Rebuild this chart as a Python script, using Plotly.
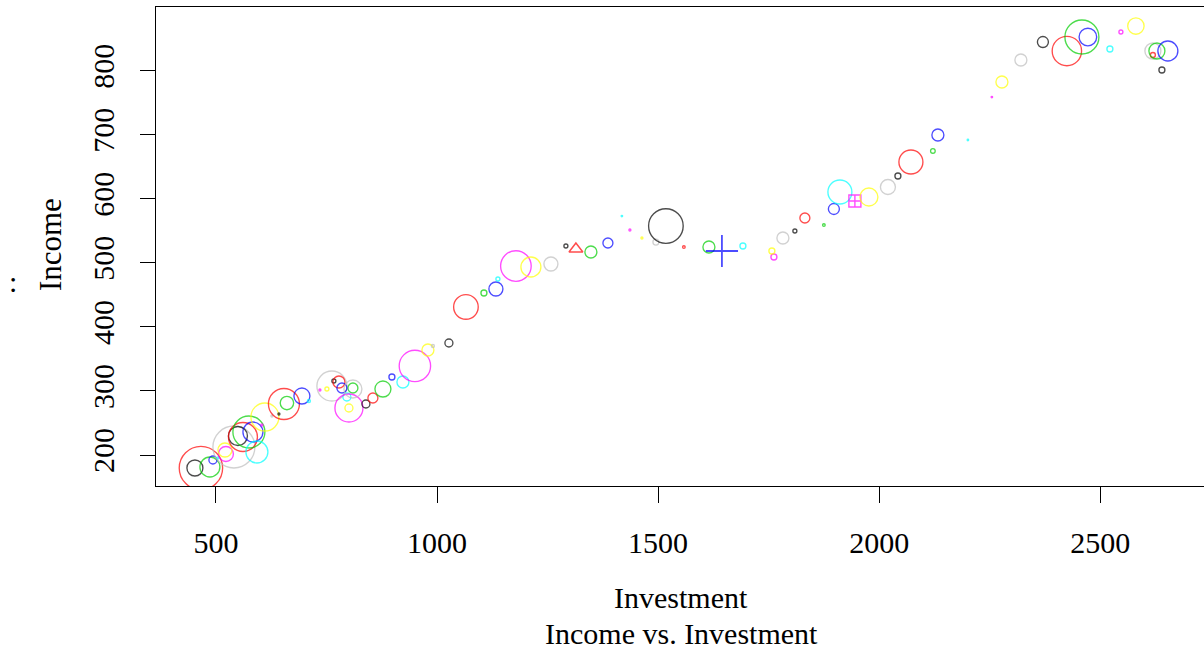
import plotly.graph_objects as go

investment = [452.5, 466.1, 486.4, 493.2, 504.5, 522.6, 520.4, 540.7, 549.8, 561.1,
              574.6, 583.7, 592.7, 604.0, 610.8, 626.6, 642.5, 653.8, 660.6, 694.5,
              710.3, 735.2, 751.0, 762.3, 766.8, 778.2, 809.8, 784.9, 796.2, 800.8,
              800.8, 809.8, 839.2, 855.0, 877.7, 898.0, 922.9, 950.0, 979.4, 990.7,
              1026.9, 1065.4, 1106.1, 1133.2, 1137.7, 1178.4, 1212.3, 1257.6, 1291.5, 1314.1,
              1348.0, 1386.5, 1418.1, 1436.2, 1463.4, 1495.0, 1517.6, 1558.3, 1614.9, 1644.3,
              1691.8, 1761.9, 1757.3, 1782.2, 1809.3, 1831.9, 1874.9, 1897.5, 1911.1, 1945.0,
              1976.7, 2019.7, 2042.3, 2071.7, 2121.4, 2132.7, 2200.6, 2254.8, 2277.5, 2320.4,
              2370.2, 2424.4, 2458.4, 2471.9, 2521.7, 2546.6, 2580.5, 2618.9, 2639.3, 2618.9,
              2628.0, 2652.8]
income = [179.7, 179.7, 181.3, 192.2, 195.3, 201.6, 207.8, 212.5, 229.7, 228.1,
          235.9, 235.9, 204.7, 246.8, 259.3, 260.9, 264.0, 279.6, 281.2, 292.1,
          284.3, 301.5, 303.0, 307.7, 315.5, 314.0, 304.6, 304.6, 290.6, 273.4,
          273.4, 303.0, 279.6, 289.0, 303.0, 321.8, 314.0, 339.0, 363.9, 370.2,
          374.9, 431.1, 452.9, 459.2, 474.8, 495.1, 493.5, 498.2, 526.3, 521.6,
          516.9, 531.0, 573.1, 551.3, 538.8, 532.5, 557.5, 524.7, 524.7, 518.5,
          526.3, 509.1, 518.5, 538.8, 549.7, 570.0, 559.1, 584.1, 610.6, 596.6,
          602.8, 618.4, 635.6, 657.5, 674.7, 699.6, 691.8, 758.9, 782.4, 816.7,
          844.8, 830.8, 852.6, 852.6, 833.9, 860.4, 869.8, 830.8, 801.1, 824.5,
          830.8, 830.8]
# relative bubble magnitude of each observation
magnitude = [8, 21.7, 10, 4, 1, 7.5, 7, 21, 9.5, 14.5,
             16, 10, 11, 1, 14, 1, 1, 15.5, 6.7, 8,
             1.5, 1, 2, 15, 2, 6, 5, 5, 4, 14,
             4, 9, 4, 5, 8, 3, 6, 15.7, 6, 1.5,
             4, 12.3, 3, 7, 2, 15.3, 10, 7, 2, 12,
             6, 5, 0.5, 1, 1, 3, 17.3, 1.3, 6, 23,
             3, 3, 3, 6, 2, 5, 1.3, 5.5, 12, 12,
             9, 7.5, 3, 12, 2.3, 6, 0.7, 0.7, 6, 6,
             5.5, 14.7, 17, 8.8, 3, 2, 8.2, 8, 3, 2.5,
             8, 10]
point_shape = {50: "triangle", 60: "plus", 70: "squareplus"}

palette = ["#000000", "#FF0000", "#00CD00", "#0000FF", "#00FFFF", "#FF00FF", "#FFFF00", "#BEBEBE"]

colors, sizes, symbols, lws = [], [], [], []
for i, m in enumerate(magnitude):
    idx = i + 1
    colors.append(palette[i % 8])
    shp = point_shape.get(idx)
    if shp == "triangle":
        symbols.append("triangle-up-open"); sizes.append(m); lws.append(1.5)
    elif shp == "plus":
        symbols.append("cross-thin-open"); sizes.append(m); lws.append(1.8)
    elif shp == "squareplus":
        symbols.append("square-cross-open"); sizes.append(m); lws.append(1.4)
    else:
        symbols.append("circle-open"); sizes.append(max(2 * m, 1.5)); lws.append(1.35)

fig = go.Figure()
fig.add_trace(go.Scatter(
    x=investment, y=income, mode="markers",
    marker=dict(symbol=symbols, size=sizes, color=colors,
                line=dict(color=colors, width=lws)),
    showlegend=False, hoverinfo="skip"))

FONT = "Liberation Serif"
fig.update_layout(
    width=1204, height=650,
    margin=dict(l=156, r=0, t=7, b=164),
    paper_bgcolor="white", plot_bgcolor="white",
    font=dict(family=FONT, size=30, color="black"),
    xaxis=dict(range=[364.5, 2734.5], tickvals=[500, 1000, 1500, 2000, 2500],
               ticks="outside", ticklen=16, tickwidth=1, tickcolor="black",
               showline=True, linecolor="black", linewidth=1, mirror=True,
               showgrid=False, zeroline=False, tickfont=dict(size=30),
               ticklabelstandoff=14),
    yaxis=dict(range=[151.6, 899.5], tickvals=[200, 300, 400, 500, 600, 700, 800],
               ticks="outside", ticklen=15, tickwidth=1, tickcolor="black",
               showline=True, linecolor="black", linewidth=1, mirror=False,
               showgrid=False, zeroline=False, tickangle=-90, tickfont=dict(size=30),
               ticklabelstandoff=14),
)
fig.add_annotation(text="Investment", xref="paper", yref="paper", x=0.5014, y=-0.2338,
                   showarrow=False, xanchor="center", yanchor="middle", font=dict(size=30))
fig.add_annotation(text="Income vs. Investment", xref="paper", yref="paper", x=0.5014, y=-0.3069,
                   showarrow=False, xanchor="center", yanchor="middle", font=dict(size=30))
fig.add_annotation(text="Income", xref="paper", yref="paper", x=-0.1011, y=0.503,
                   showarrow=False, textangle=-90, xanchor="center", yanchor="middle",
                   font=dict(size=31))
fig.add_annotation(text=":", xref="paper", yref="paper", x=-0.1365, y=0.426,
                   showarrow=False, xanchor="center", yanchor="middle", font=dict(size=30))
fig.write_html("out.html")
